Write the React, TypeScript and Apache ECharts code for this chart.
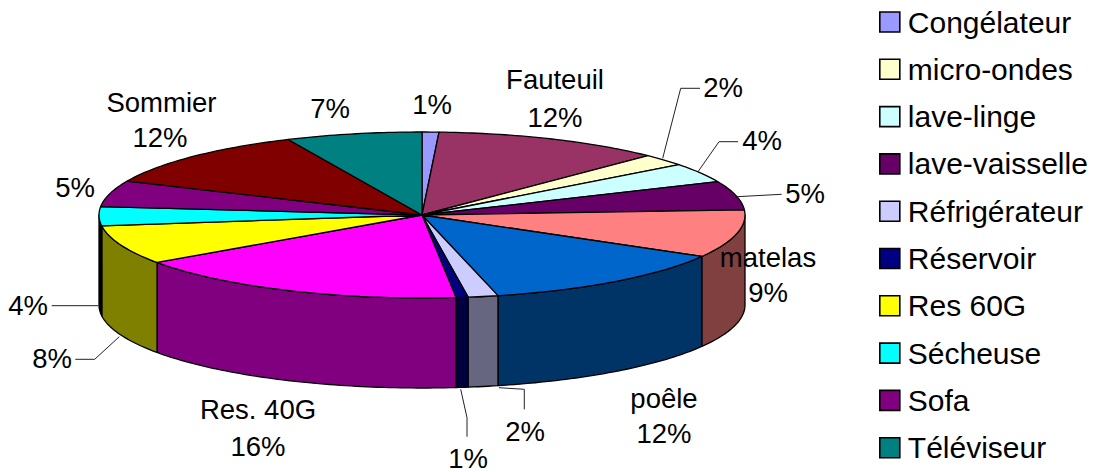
import React, { useEffect, useRef } from "react";
import * as echarts from "echarts";

// Slices, clockwise from 12 o'clock
const sliceNames = ["Congélateur", "Fauteuil", "micro-ondes", "lave-linge", "lave-vaisselle", "matelas", "poêle", "Réfrigérateur", "Réservoir", "Res. 40G", "Res 60G", "Sécheuse", "Sofa", "Sommier", "Téléviseur"];
const sliceValues = [0.84, 11.5, 2.3, 3.8, 5.6, 9.3, 12.9, 1.5, 0.6, 17, 7.6, 3.7, 5.1, 11.5, 6.8];
const percentLabels = ["1%", "12%", "2%", "4%", "5%", "9%", "12%", "2%", "1%", "16%", "8%", "4%", "5%", "12%", "7%"];
const sliceColors = ["#9999FF", "#993366", "#FFFFCC", "#CCFFFF", "#660066", "#FF8080", "#0066CC", "#CCCCFF", "#000080", "#FF00FF", "#FFFF00", "#00FFFF", "#800080", "#800000", "#008080"];
const sideColors = ["#4D4D80", "#4D1A33", "#808066", "#668080", "#330033", "#804040", "#003366", "#666680", "#000040", "#800080", "#808000", "#000000", "#400040", "#400000", "#004040"];
const legendNames = ["Congélateur", "micro-ondes", "lave-linge", "lave-vaisselle", "Réfrigérateur", "Réservoir", "Res 60G", "Sécheuse", "Sofa", "Téléviseur"];

// Which slices print their name above the percentage
const namedSlices = ["Fauteuil", "matelas", "poêle", "Res. 40G", "Sommier"];

// Label placement, by slice index: [x, y of name, x of pct, y of pct]
const labelPlaces: number[][] = [
  [432, 0, 432, 104], [555, 79, 555, 117], [723, 0, 723, 87], [762, 0, 762, 140], [805, 0, 805, 193],
  [768, 257, 768, 292], [664, 398, 664, 433], [525, 0, 525, 431], [468, 0, 468, 458], [258, 409, 258, 446],
  [52, 0, 52, 358], [28, 0, 28, 305], [75, 0, 75, 187], [161.5, 102, 160, 137], [330, 0, 330, 108],
];
const leaderLines: number[][][] = [
  [[662.7, 158.3], [680.7, 88.3], [700, 88.3]],
  [[698, 171.7], [719, 141.7], [738, 141.7]],
  [[736.7, 196.7], [781.7, 194.3]],
  [[499, 387.7], [524.3, 389.3], [524.3, 409.3]],
  [[460.7, 389.3], [467, 417.7], [467, 436.7]],
  [[119.3, 336.7], [94.7, 359.3], [75.3, 359.3]],
  [[98.3, 305.7], [51.7, 305.7]],
];

const CX = 422, CY = 215, RX = 323, RY = 83, DEPTH = 90;
const FONT = '"Liberation Sans", Arial, sans-serif';
const total = sliceValues.reduce((a, b) => a + b, 0);

const pt = (deg: number, dy = 0): number[] => {
  const r = (deg * Math.PI) / 180;
  return [CX + RX * Math.sin(r), CY - RY * Math.cos(r) + dy];
};

const arcPoints = (a0: number, a1: number, dy = 0): number[][] => {
  const n = Math.max(2, Math.ceil(Math.abs(a1 - a0)));
  const out: number[][] = [];
  for (let i = 0; i <= n; i++) out.push(pt(a0 + ((a1 - a0) * i) / n, dy));
  return out;
};

const edge = { stroke: "#000", lineWidth: 1.3, lineJoin: "round" };

function buildOption() {
  let cumulative = 0;
  const series = sliceNames.map((name, i) => {
    const startShare = cumulative;
    cumulative += sliceValues[i];
    return {
      type: "custom",
      name,
      coordinateSystem: "none",
      silent: true,
      clip: false,
      itemStyle: { color: sliceColors[i] },
      data: [[sliceValues[i]]],
      renderItem: (_p: any, api: any) => {
        const a0 = (startShare / total) * 360;
        const a1 = a0 + (api.value(0) / total) * 360;
        const children: any[] = [];
        const w0 = Math.max(a0, 90);
        const w1 = Math.min(a1, 270);
        if (w1 > w0) {
          children.push({
            type: "polygon",
            shape: { points: [...arcPoints(w0, w1), ...arcPoints(w1, w0, DEPTH)] },
            style: { fill: sideColors[i], ...edge },
          });
        }
        children.push({
          type: "polygon",
          shape: { points: [[CX, CY], ...arcPoints(a0, a1)] },
          style: { fill: sliceColors[i], ...edge },
        });
        return { type: "group", children };
      },
    };
  });

  const textEl = (text: string, x: number, y: number) => ({
    type: "text",
    z: 100,
    silent: true,
    style: { text, x, y, fill: "#000", font: `27.5px ${FONT}`, textAlign: "center", textVerticalAlign: "middle" },
  });

  const labelEls: any[] = [];
  sliceNames.forEach((name, i) => {
    const [nx, ny, px, py] = labelPlaces[i];
    if (namedSlices.includes(name)) labelEls.push(textEl(name, nx, ny));
    labelEls.push(textEl(percentLabels[i], px, py));
  });
  const lineEls = leaderLines.map((points) => ({
    type: "polyline",
    z: 99,
    silent: true,
    shape: { points },
    style: { stroke: "#222", lineWidth: 1, fill: "none" },
  }));

  return {
    animation: false,
    backgroundColor: "#fff",
    legend: {
      data: legendNames,
      orient: "vertical",
      left: 879,
      top: 7,
      padding: 0,
      itemWidth: 20,
      itemHeight: 20,
      itemGap: 17.3,
      icon: "rect",
      selectedMode: false,
      itemStyle: { borderColor: "#000", borderWidth: 1.6 },
      textStyle: { fontFamily: FONT, fontSize: 30, color: "#000", padding: [0, 0, 0, 3] },
    },
    graphic: { elements: [...lineEls, ...labelEls] },
    series,
  };
}

export default function App() {
  const ref = useRef<HTMLDivElement>(null);
  useEffect(() => {
    const chart = echarts.init(ref.current!, null, { renderer: "svg" });
    chart.setOption(buildOption() as any);
    return () => chart.dispose();
  }, []);
  return <div ref={ref} style={{ position: "absolute", left: 0, top: 0, width: 1094, height: 472 }} />;
}
